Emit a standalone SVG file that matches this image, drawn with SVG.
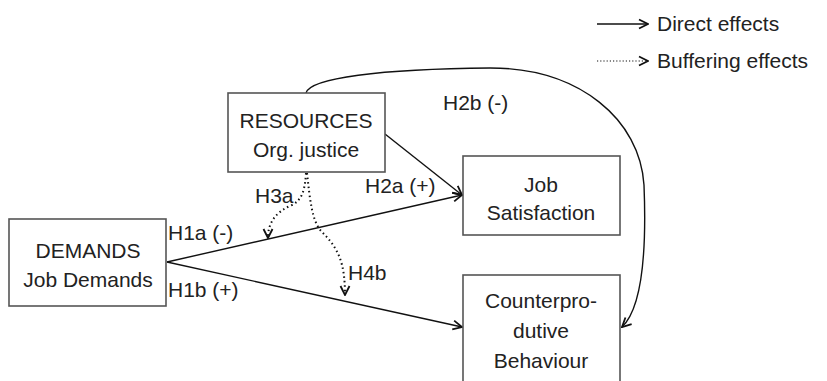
<svg xmlns="http://www.w3.org/2000/svg" width="827" height="381" viewBox="0 0 827 381">
<defs>
<style>
.box{fill:#fff;stroke:#555;stroke-width:1.6}
.t{font-family:"Liberation Sans",Arial,sans-serif;font-size:21px;fill:#222}
.c{text-anchor:middle}
.solid{fill:none;stroke:#111;stroke-width:1.4;marker-end:url(#ah)}
.dot{fill:none;stroke:#111;stroke-width:2;stroke-dasharray:1.5 3;marker-end:url(#ah)}
</style>
<marker id="ah" viewBox="0 0 12 12" refX="11" refY="6" markerWidth="12" markerHeight="12" markerUnits="userSpaceOnUse" orient="auto">
<polyline points="2,1.5 11,6 2,10.5" fill="none" stroke="#111" stroke-width="1.8"/>
</marker>
</defs>
<rect width="827" height="381" fill="#fff"/>
<g id="connectors">
<path class="solid" d="M167,262 L462,195"/>
<path class="solid" d="M167,262 L462,327"/>
<path class="solid" d="M385,134 L462,195"/>
<path class="solid" d="M306,93 C310,78 380,69 490,68 C580,68 640,120 644,185 C647,260 640,310 622,327"/>
<path class="dot" d="M306,173 C305,190 302,200 292,205 C276,212 268,222 268,238"/>
<path class="dot" d="M307,173 C310,200 312,222 322,232 C338,248 345,262 345,295"/>
</g>
<g id="legend">
<path class="solid" d="M597,24 L648,24"/>
<text class="t" x="657" y="31">Direct effects</text>
<path fill="none" stroke="#111" stroke-width="1.2" stroke-dasharray="1.2 2" marker-end="url(#ah)" d="M597,61 L648,61"/>
<text class="t" x="657" y="68">Buffering effects</text>
</g>
<g id="demands">
<rect class="box" x="9" y="219" width="157" height="87"/>
<text class="t c" x="88" y="258">DEMANDS</text>
<text class="t c" x="88" y="287">Job Demands</text>
</g>
<g id="resources">
<rect class="box" x="228" y="93" width="157" height="79"/>
<text class="t c" x="306" y="128">RESOURCES</text>
<text class="t c" x="306" y="157">Org. justice</text>
</g>
<g id="jobsat">
<rect class="box" x="463" y="156" width="157" height="79"/>
<text class="t c" x="541" y="192">Job</text>
<text class="t c" x="541" y="220">Satisfaction</text>
</g>
<g id="cwb">
<rect class="box" x="463" y="275" width="157" height="120"/>
<text class="t c" x="541" y="308">Counterpro-</text>
<text class="t c" x="541" y="338">dutive</text>
<text class="t c" x="541" y="368">Behaviour</text>
</g>
<g id="labels">
<text class="t" x="168" y="240">H1a (-)</text>
<text class="t" x="168" y="297">H1b (+)</text>
<text class="t" x="255" y="203">H3a</text>
<text class="t" x="365" y="193">H2a (+)</text>
<text class="t" x="443" y="110">H2b (-)</text>
<text class="t" x="348" y="280">H4b</text>
</g>
</svg>
